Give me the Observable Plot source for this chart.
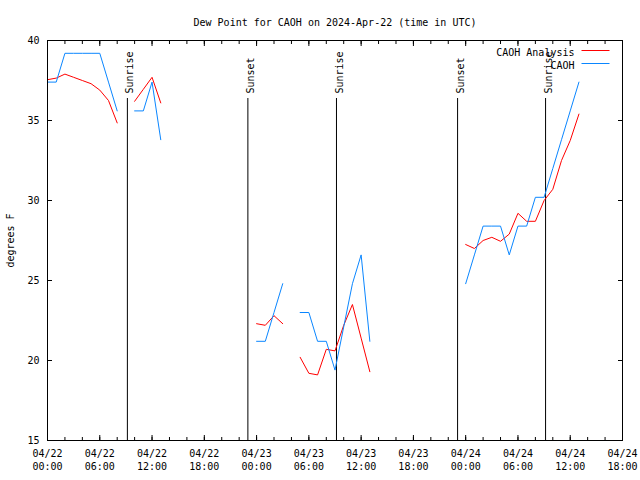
<!DOCTYPE html>
<html>
<head>
<meta charset="utf-8">
<script src="https://cdn.jsdelivr.net/npm/d3@7"></script>
<script src="https://cdn.jsdelivr.net/npm/@observablehq/plot@0.6"></script>
<style>
  html, body { margin: 0; padding: 0; background: #fff; }
  svg { font-family: "DejaVu Sans Mono", monospace; }
</style>
</head>
<body>
<div id="chart"></div>
<script>
const titleText = "Dew Point for CAOH on 2024-Apr-22 (time in UTC)";
const yLabel = "degrees F";

// hours since 2024-04-22 00:00 UTC
const hours = [0,1,2,3,4,5,6,7,8,9,10,11,12,13,14,15,16,17,18,19,20,21,22,23,24,25,26,27,28,29,30,31,32,33,34,35,36,37,38,39,40,41,42,43,44,45,46,47,48,49,50,51,52,53,54,55,56,57,58,59,60,61];

// CAOH Analysis (red); null = no data (gap)
const analysisF = [37.55,37.65,37.9,37.7,37.5,37.3,36.9,36.25,34.85,
  null,
  36.2,36.95,37.7,36.1,
  null,null,null,null,null,null,null,null,null,null,
  22.3,22.2,22.8,22.3,
  null,
  20.2,19.2,19.1,20.7,20.6,22.2,23.5,21.4,19.3,
  null,null,null,null,null,null,null,null,null,null,
  27.25,27.0,27.5,27.7,27.45,27.9,29.2,28.7,28.7,30.0,30.7,32.5,33.75,35.4];

// CAOH observations (blue)
const obsF = [37.4,37.4,39.2,39.2,39.2,39.2,39.2,37.4,35.6,
  null,
  35.6,35.6,37.4,33.8,
  null,null,null,null,null,null,null,null,null,null,
  21.2,21.2,23.0,24.8,
  null,
  23.0,23.0,21.2,21.2,19.4,22.1,24.8,26.6,21.2,
  null,null,null,null,null,null,null,null,null,null,
  24.8,26.6,28.4,28.4,28.4,26.6,28.4,28.4,30.2,30.2,32.0,33.8,35.6,37.4];

const seriesNames = ["CAOH Analysis", "CAOH"];
const seriesColors = ["#ff0000", "#0a86ff"];

const sunEventHours = [9.17, 23.0, 33.17, 47.07, 57.17];
const sunEventLabels = ["Sunrise", "Sunset", "Sunrise", "Sunset", "Sunrise"];

const xMajorTicks = [0,6,12,18,24,30,36,42,48,54,60,66];
const xTickLabels = ["04/22\n00:00","04/22\n06:00","04/22\n12:00","04/22\n18:00",
  "04/23\n00:00","04/23\n06:00","04/23\n12:00","04/23\n18:00",
  "04/24\n00:00","04/24\n06:00","04/24\n12:00","04/24\n18:00"];
const xMinorTicks = [0,2,4,6,8,10,12,14,16,18,20,22,24,26,28,30,32,34,36,38,40,42,44,46,48,50,52,54,56,58,60,62,64,66];
const yTicks = [15,20,25,30,35,40];

const analysisData = hours.map((h, i) => ({h, v: analysisF[i]}));
const obsData = hours.map((h, i) => ({h, v: obsF[i]}));
const sunEvents = sunEventHours.map((h, i) => ({h, label: sunEventLabels[i]}));

const legendShape = {draw(context, l) { context.moveTo(0, 0); context.lineTo(l, 0); }};

const chart = Plot.plot({
  width: 640,
  height: 480,
  marginLeft: 47,
  marginRight: 18,
  marginTop: 40,
  marginBottom: 40,
  style: {fontFamily: "DejaVu Sans Mono, monospace", fontSize: "10px", color: "black", background: "white"},
  x: {domain: [0, 66]},
  y: {domain: [15, 40]},
  marks: [
    // sunrise / sunset
    Plot.ruleX(sunEvents, {x: "h", insetTop: 58, stroke: "black", strokeWidth: 1}),
    Plot.text(sunEvents, {x: "h", text: "label", frameAnchor: "top", dy: 53, dx: -1, rotate: -90, textAnchor: "start", fontSize: 10, fill: "black"}),
    // series
    Plot.lineY(analysisData, {x: "h", y: "v", stroke: seriesColors[0], strokeWidth: 1}),
    Plot.lineY(obsData, {x: "h", y: "v", stroke: seriesColors[1], strokeWidth: 1}),
    // axes (gnuplot-style inward ticks, mirrored)
    Plot.axisX(xMinorTicks, {anchor: "bottom", tickSize: -3, tickFormat: () => "", label: null}),
    Plot.axisX(xMajorTicks, {anchor: "bottom", tickSize: -5, tickPadding: 12, lineHeight: 1.3,
      tickFormat: d => xTickLabels[xMajorTicks.indexOf(d)], label: null, fontSize: 10}),
    Plot.axisX(xMinorTicks, {anchor: "top", tickSize: -3, tickFormat: () => "", label: null}),
    Plot.axisX(xMajorTicks, {anchor: "top", tickSize: -5, tickFormat: () => "", label: null}),
    Plot.axisY(yTicks, {anchor: "left", tickSize: -5, tickPadding: 13, fontSize: 10,
      label: yLabel, labelAnchor: "center", labelArrow: "none", labelOffset: 41}),
    Plot.axisY(yTicks, {anchor: "right", tickSize: -5, tickFormat: () => "", label: null}),
    Plot.frame({stroke: "black", strokeWidth: 1}),
    // title
    Plot.text([titleText], {frameAnchor: "top", dy: -22, fontSize: 10, fill: "black"}),
    // legend
    Plot.text([seriesNames[0]], {frameAnchor: "top-right", dx: -48, dy: 8, textAnchor: "end", fontSize: 10, fill: "black"}),
    Plot.text([seriesNames[1]], {frameAnchor: "top-right", dx: -48, dy: 21, textAnchor: "end", fontSize: 10, fill: "black"}),
    Plot.vector([0], {frameAnchor: "top-right", dx: -41, dy: 10, length: 28, rotate: 0, anchor: "start",
      shape: legendShape, stroke: seriesColors[0], strokeWidth: 1, strokeLinecap: "butt"}),
    Plot.vector([0], {frameAnchor: "top-right", dx: -41, dy: 23, length: 28, rotate: 0, anchor: "start",
      shape: legendShape, stroke: seriesColors[1], strokeWidth: 1, strokeLinecap: "butt"})
  ]
});
document.getElementById("chart").appendChild(chart);
</script>
</body>
</html>
